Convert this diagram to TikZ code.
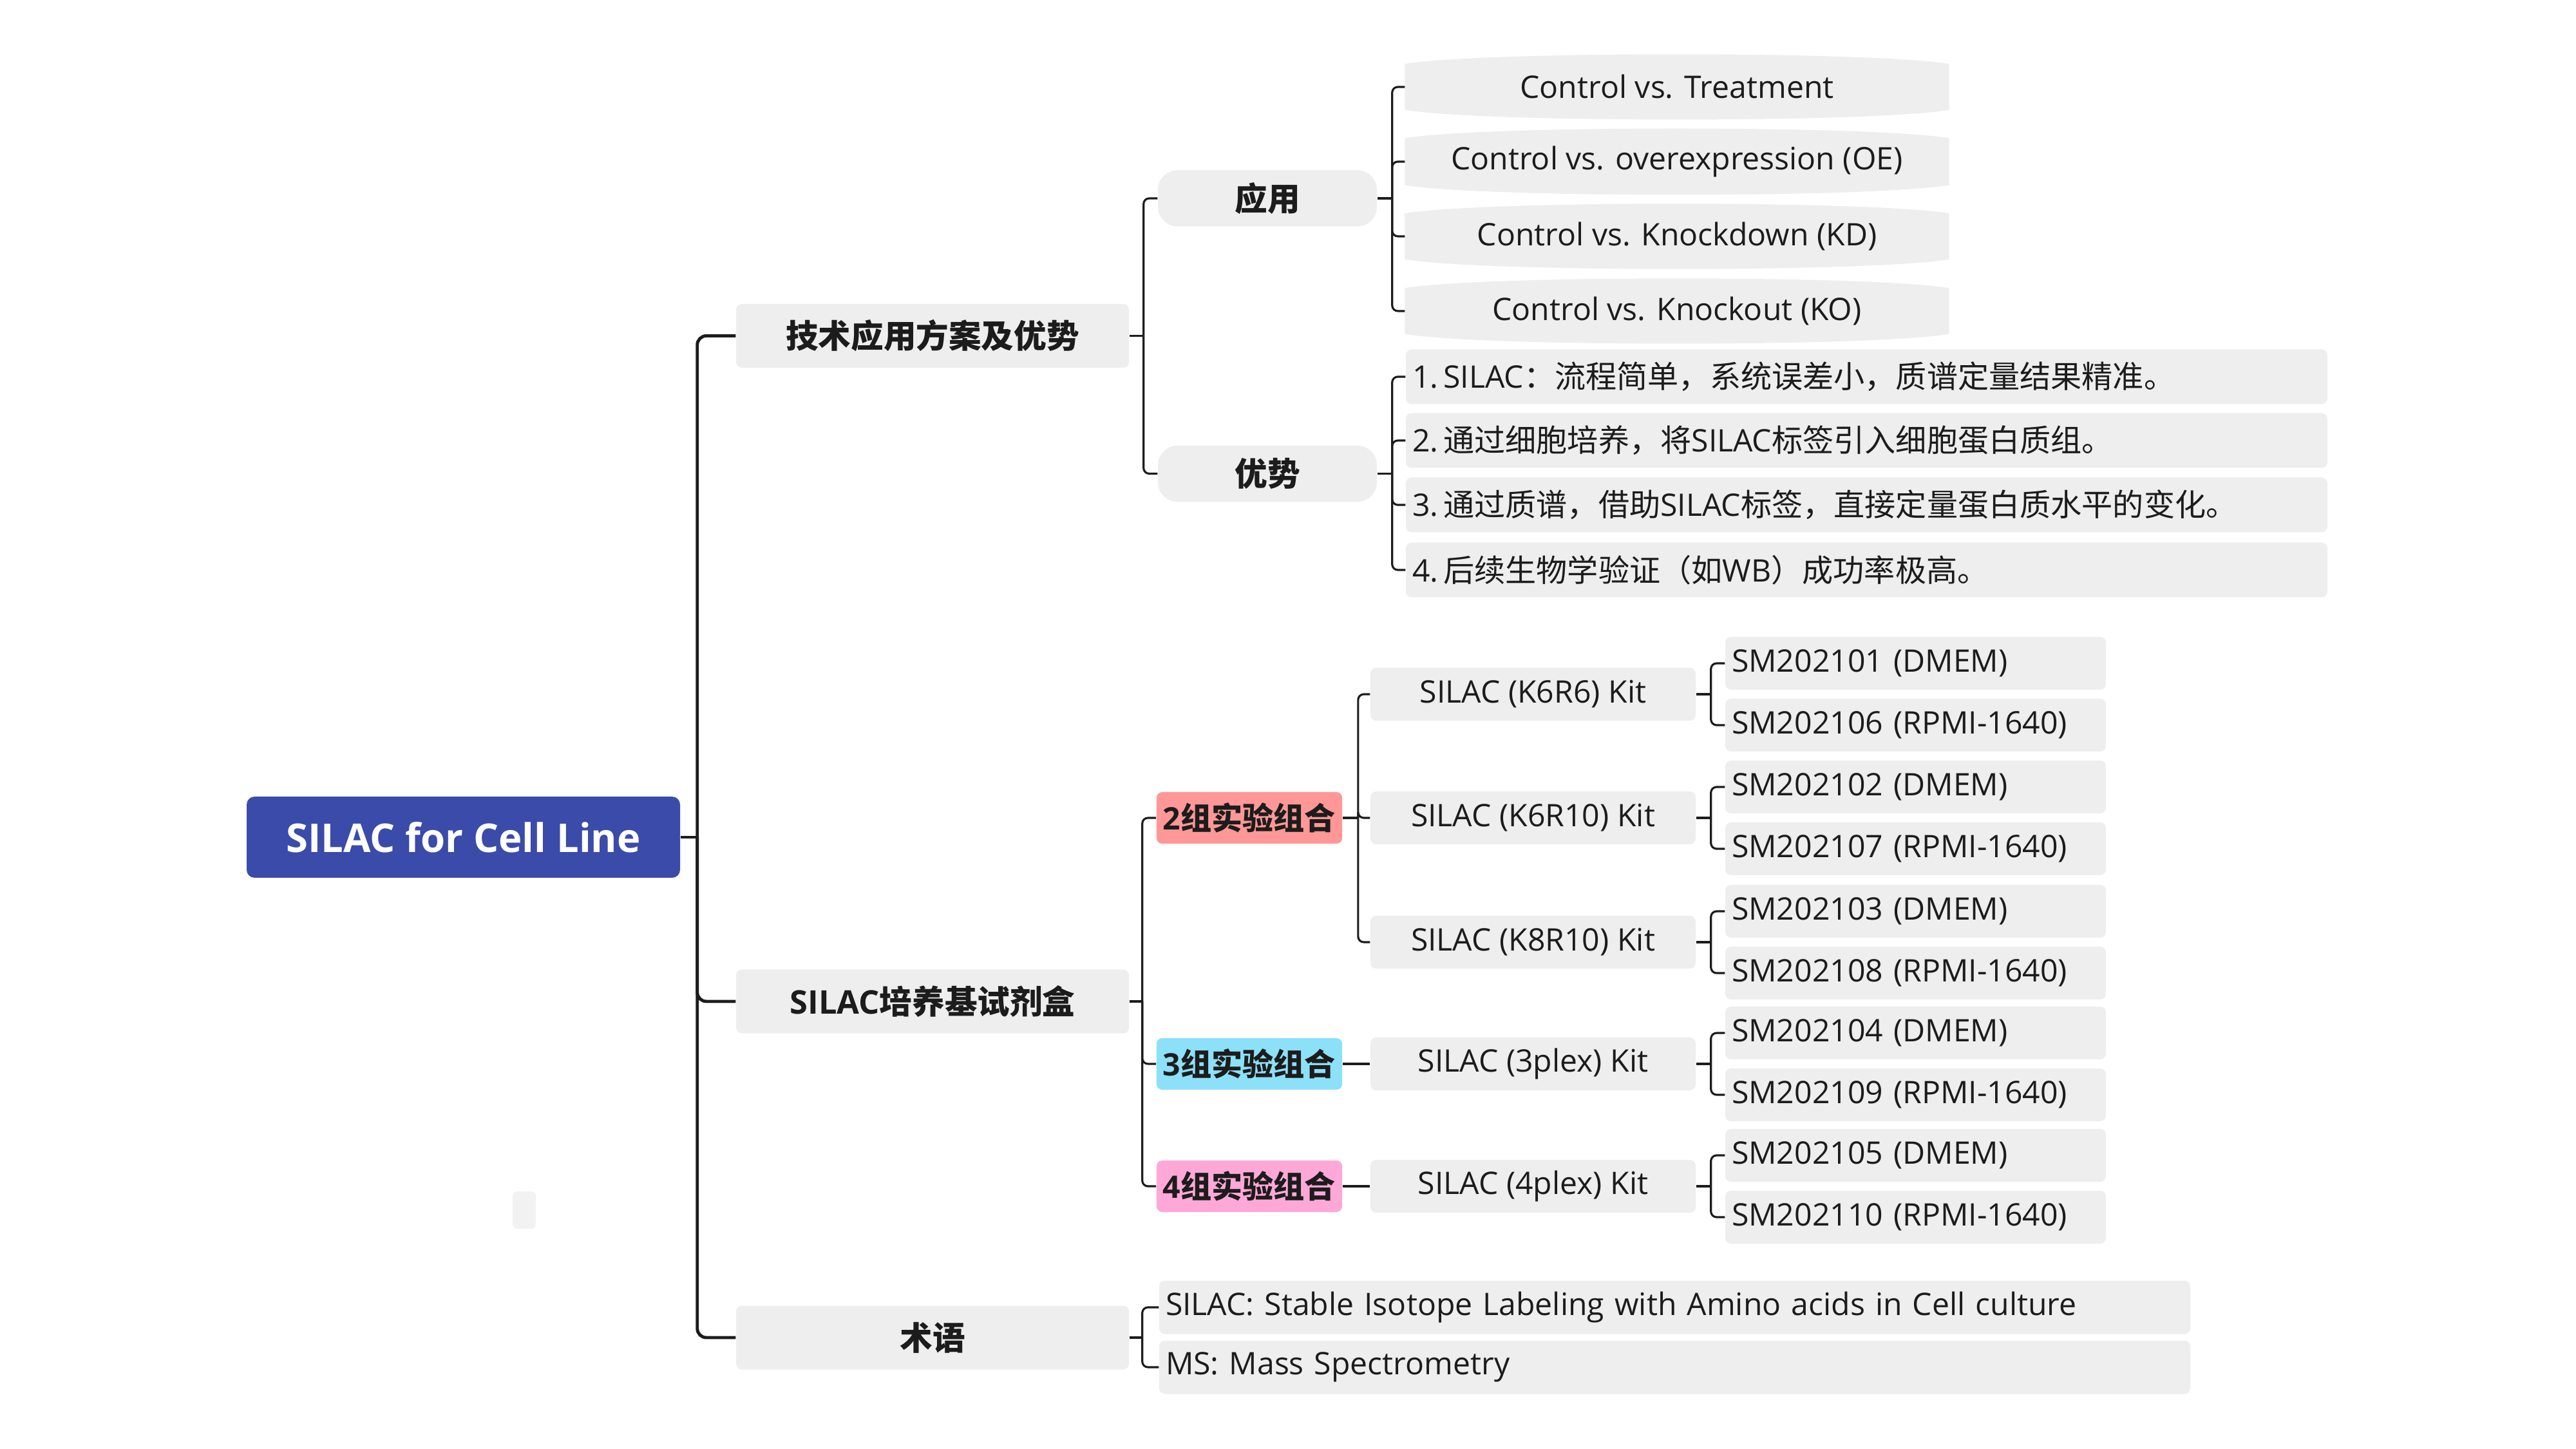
\documentclass[tikz,border=0pt]{standalone}
\usepackage{fontspec}
\setmainfont{Open Sans}
\newfontfamily\zh{Noto Sans CJK SC}
\usepackage{xcolor}
\usepackage{tikz}
\usetikzlibrary{backgrounds}

\definecolor{rootblue}{HTML}{3A4BA9}
\definecolor{boxgray}{HTML}{EEEEEE}
\definecolor{grpred}{HTML}{FF9797}
\definecolor{grpblue}{HTML}{8CE0F8}
\definecolor{grppink}{HTML}{FFA8D8}
\definecolor{ink}{HTML}{1C1C1C}

\begin{document}
\begin{tikzpicture}[
  txt/.style={font=\fontsize{13.7}{16}\selectfont},
  base/.style={txt, fill=boxgray, rounded corners=2.5pt, inner sep=0.1cm, text=ink},
  root/.style={fill=rootblue, rounded corners=3.5pt, text=white,
               font=\fontsize{17.5}{20}\selectfont\bfseries,
               minimum width=6.73cm, minimum height=1.26cm},
  topic/.style={base, font=\fontsize{14.4}{17}\selectfont\bfseries,
                minimum width=6.10cm, minimum height=0.99cm},
  pill/.style={topic, rounded corners=0.3cm, minimum width=3.40cm, minimum height=0.87cm},
  compare/.style={txt, text=ink, minimum width=8.44cm, minimum height=0.70cm},
  point/.style={base, text width=14.11cm, align=left, minimum height=0.85cm},
  group/.style={topic, font=\fontsize{13.7}{16}\selectfont\bfseries,
                minimum width=2.84cm, minimum height=0.80cm},
  kit/.style={base, minimum width=5.05cm, minimum height=0.82cm},
  medium/.style={base, text width=5.71cm, align=left, minimum height=0.82cm},
  term/.style={base, text width=15.81cm, align=left, minimum height=0.83cm},
  main/.style={draw=ink, line width=1.4pt, rounded corners=4pt},
  conn/.style={draw=ink, line width=0.9pt, rounded corners=2.5pt}
]
\useasboundingbox (0,0) rectangle (40,-22.5);

%% Root and first level
\node[root]  (root)  at (7.195, -13.00) {SILAC for Cell Line};
\node[topic] (tech)  at (14.48, -5.215) {\zh 技术应用方案及优势};
\node[topic] (media) at (14.48, -15.55) {SILAC{\zh 培养基试剂盒}};
\node[topic] (term)  at (14.48, -20.77) {\zh 术语};

%% Applications and advantages
\node[pill] (app) at (19.68, -3.08)  {\zh 应用};
\node[pill] (adv) at (19.68, -7.355) {\zh 优势};

\node[compare] (ctrt) at (26.04, -1.35) {Control vs. Treatment};
\node[compare] (cOE)  at (26.04, -2.51) {Control vs. overexpression (OE)};
\node[compare] (cKD)  at (26.04, -3.67) {Control vs. Knockdown (KD)};
\node[compare] (cKO)  at (26.04, -4.83) {Control vs. Knockout (KO)};

\node[point] (adv1) at (28.985, -5.85) {1.\,SILAC{\zh ：流程简单，系统误差小，质谱定量结果精准。}};
\node[point] (adv2) at (28.985, -6.84) {2.\,{\zh 通过细胞培养，将}SILAC{\zh 标签引入细胞蛋白质组。}};
\node[point] (adv3) at (28.985, -7.84) {3.\,{\zh 通过质谱，借助}SILAC{\zh 标签，直接定量蛋白质水平的变化。}};
\node[point] (adv4) at (28.985, -8.85) {4.\,{\zh 后续生物学验证（如}WB{\zh ）成功率极高。}};

%% Experiment groups and kits
\node[group, fill=grpred]  (g2) at (19.40, -12.70) {2{\zh 组实验组合}};
\node[group, fill=grpblue] (g3) at (19.40, -16.52) {3{\zh 组实验组合}};
\node[group, fill=grppink] (g4) at (19.40, -18.42) {4{\zh 组实验组合}};

\node[kit] (k66)  at (23.805, -10.78) {SILAC (K6R6) Kit};
\node[kit] (k610) at (23.805, -12.70) {SILAC (K6R10) Kit};
\node[kit] (k810) at (23.805, -14.63) {SILAC (K8R10) Kit};
\node[kit] (k3p)  at (23.805, -16.52) {SILAC (3plex) Kit};
\node[kit] (k4p)  at (23.805, -18.42) {SILAC (4plex) Kit};

\node[medium] (sm01) at (29.745, -10.30) {SM202101 (DMEM)};
\node[medium] (sm06) at (29.745, -11.26) {SM202106 (RPMI-1640)};
\node[medium] (sm02) at (29.745, -12.22) {SM202102 (DMEM)};
\node[medium] (sm07) at (29.745, -13.18) {SM202107 (RPMI-1640)};
\node[medium] (sm03) at (29.745, -14.15) {SM202103 (DMEM)};
\node[medium] (sm08) at (29.745, -15.11) {SM202108 (RPMI-1640)};
\node[medium] (sm04) at (29.745, -16.04) {SM202104 (DMEM)};
\node[medium] (sm09) at (29.745, -17.00) {SM202109 (RPMI-1640)};
\node[medium] (sm05) at (29.745, -17.94) {SM202105 (DMEM)};
\node[medium] (sm10) at (29.745, -18.90) {SM202110 (RPMI-1640)};

%% Terms
\node[term] (tSILAC) at (26.005, -20.30) {SILAC: Stable Isotope Labeling with Amino acids in Cell culture};
\node[term] (tMS)    at (26.005, -21.23) {MS: Mass Spectrometry};

%% Bulged boxes behind the comparisons
\begin{scope}[on background layer]
  \foreach \n in {ctrt,cOE,cKD,cKO}
    \fill[boxgray] (\n.south west) -- (\n.north west)
      .. controls +(1.2,0.2) and +(-1.2,0.2) .. (\n.north east)
      -- (\n.south east)
      .. controls +(-1.2,-0.2) and +(1.2,-0.2) .. (\n.south west) -- cycle;
  \fill[black!5, rounded corners=2pt] (7.96,-18.50) rectangle (8.32,-19.08);
\end{scope}

%% Junctions
\coordinate (jRoot)  at ([xshift=2.6mm]root.east);
\coordinate (jTech)  at ([xshift=2.2mm]tech.east);
\coordinate (jApp)   at ([xshift=2.3mm]app.east);
\coordinate (jAdv)   at ([xshift=2.3mm]adv.east);
\coordinate (jMedia) at ([xshift=2.0mm]media.east);
\coordinate (jG2)    at ([xshift=2.4mm]g2.east);
\coordinate (jTerm)  at ([xshift=2.0mm]term.east);

%% Connectors
\draw[main] (root.east) -- (jRoot);
\foreach \n in {tech,media,term}
  \draw[main] (jRoot) |- (\n.west);

\draw[conn] (tech.east) -- (jTech);
\foreach \n in {app,adv}
  \draw[conn] (jTech) |- (\n.west);

\draw[conn] (app.east) -- (jApp);
\foreach \n in {ctrt,cOE,cKD,cKO}
  \draw[conn] (jApp) |- (\n.west);

\draw[conn] (adv.east) -- (jAdv);
\foreach \n in {adv1,adv2,adv3,adv4}
  \draw[conn] (jAdv) |- (\n.west);

\draw[conn] (media.east) -- (jMedia);
\foreach \n in {g2,g3,g4}
  \draw[conn] (jMedia) |- (\n.west);

\draw[conn] (g2.east) -- (jG2);
\foreach \n in {k66,k610,k810}
  \draw[conn] (jG2) |- (\n.west);
\draw[conn] (g3.east) -- (k3p.west);
\draw[conn] (g4.east) -- (k4p.west);

\foreach \k/\a/\b in {k66/sm01/sm06, k610/sm02/sm07, k810/sm03/sm08, k3p/sm04/sm09, k4p/sm05/sm10}{
  \draw[conn] (\k.east) -- ++(0.23,0) coordinate (j\k);
  \draw[conn] (j\k) |- (\a.west);
  \draw[conn] (j\k) |- (\b.west);
}

\draw[conn] (term.east) -- (jTerm);
\foreach \n in {tSILAC,tMS}
  \draw[conn] (jTerm) |- (\n.west);

\end{tikzpicture}
\end{document}
